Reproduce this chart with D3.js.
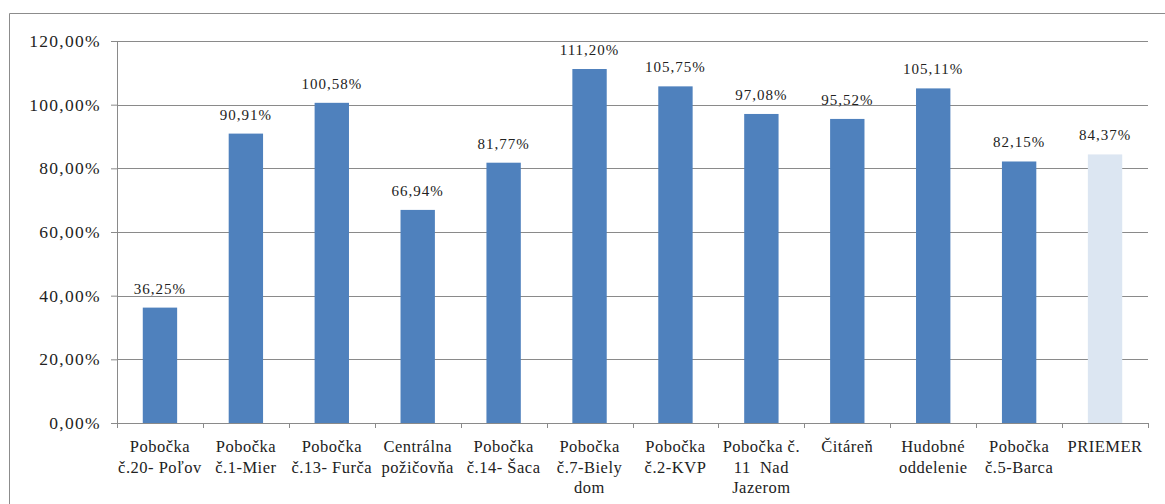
<!DOCTYPE html>
<html>
<head>
<meta charset="utf-8">
<script src="https://cdn.jsdelivr.net/npm/d3@7"></script>
<style>
  html, body { margin: 0; padding: 0; background: #fff; }
  svg text { font-family: "Liberation Serif", "Times New Roman", serif !important; }
</style>
</head>
<body>
<div id="chart"></div>
<script>
// Category labels, split into the lines shown under each bar
const categories = [
    ['Pobočka', 'č.20- Poľov'],
    ['Pobočka', 'č.1-Mier'],
    ['Pobočka', 'č.13- Furča'],
    ['Centrálna', 'požičovňa'],
    ['Pobočka', 'č.14- Šaca'],
    ['Pobočka', 'č.7-Biely', 'dom'],
    ['Pobočka', 'č.2-KVP'],
    ['Pobočka č.', '11  Nad', 'Jazerom'],
    ['Čitáreň'],
    ['Hudobné', 'oddelenie'],
    ['Pobočka', 'č.5-Barca'],
    ['PRIEMER']
];
const values = [36.25, 90.91, 100.58, 66.94, 81.77, 111.20, 105.75, 97.08, 95.52, 105.11, 82.15, 84.37];
const yTicks = [0, 20, 40, 60, 80, 100, 120];
const highlightLast = 'PRIEMER';

const W = 1165, H = 504;
const margin = { top: 41, right: 17, bottom: 81, left: 117 };

const svg = d3.select('#chart').append('svg')
    .attr('width', W)
    .attr('height', H);

// outer frame (only top and left edges are visible in the picture)
svg.append('path')
    .attr('d', `M9.5,${H} V13.5 H${W}`)
    .attr('fill', 'none')
    .attr('stroke', '#8c8c8c')
    .attr('stroke-width', 1);

const g = svg.append('g').attr('transform', `translate(${margin.left},${margin.top})`);
const innerW = W - margin.left - margin.right;
const innerH = H - margin.top - margin.bottom;

const keys = categories.map(d => d.join(' '));
const x = d3.scaleBand().domain(keys).range([0, innerW]).paddingInner(0.6).paddingOuter(0.3);
const y = d3.scaleLinear().domain([0, 120]).range([innerH, 0]);

const fmt = v => d3.format('.2f')(v).replace('.', ',') + '%';

// gridlines
g.selectAll('.grid')
    .data(yTicks.filter(t => t > 0))
    .enter().append('line')
    .attr('x1', 0).attr('x2', innerW)
    .attr('y1', d => Math.round(y(d)) + 0.5)
    .attr('y2', d => Math.round(y(d)) + 0.5)
    .attr('stroke', '#8a8a8a');

// y axis
const yAxis = g.append('g')
    .call(d3.axisLeft(y).tickValues(yTicks).tickSize(6).tickPadding(10).tickFormat(fmt));
yAxis.select('.domain').attr('stroke', '#8a8a8a');
yAxis.selectAll('.tick line').attr('stroke', '#8a8a8a');
yAxis.selectAll('.tick text')
    .attr('font-size', '17.5px')
    .attr('letter-spacing', '1.3px')
    .attr('fill', '#222');

// bars
g.selectAll('.bar')
    .data(values)
    .enter().append('rect')
    .attr('x', (d, i) => x(keys[i]))
    .attr('y', d => y(d))
    .attr('width', x.bandwidth())
    .attr('height', d => innerH - y(d))
    .attr('fill', (d, i) => keys[i] === highlightLast ? '#dce6f2' : '#4f81bd');

// value labels
g.selectAll('.val')
    .data(values)
    .enter().append('text')
    .attr('x', (d, i) => x(keys[i]) + x.bandwidth() / 2)
    .attr('y', d => y(d) - 14)
    .attr('text-anchor', 'middle')
    .attr('font-size', '15px')
    .attr('letter-spacing', '1px')
    .attr('fill', '#222')
    .text(fmt);

// x axis line and tick marks at category boundaries
const step = innerW / categories.length;
g.append('line')
    .attr('x1', 0).attr('x2', innerW)
    .attr('y1', innerH + 0.5).attr('y2', innerH + 0.5)
    .attr('stroke', '#8a8a8a');
g.selectAll('.xtick')
    .data(d3.range(categories.length + 1))
    .enter().append('line')
    .attr('x1', i => Math.round(i * step) + 0.5)
    .attr('x2', i => Math.round(i * step) + 0.5)
    .attr('y1', innerH).attr('y2', innerH + 5)
    .attr('stroke', '#8a8a8a');

// category labels
const cat = g.selectAll('.cat')
    .data(categories)
    .enter().append('text')
    .attr('text-anchor', 'middle')
    .attr('font-size', '16.5px')
    .attr('letter-spacing', '0.5px')
    .attr('fill', '#222')
    .attr('transform', (d, i) => `translate(${x(keys[i]) + x.bandwidth() / 2},${innerH + 29})`);
cat.selectAll('tspan')
    .data(d => d)
    .enter().append('tspan')
    .attr('x', 0)
    .attr('y', (d, i) => i * 20.5)
    .attr('xml:space', 'preserve')
    .style('white-space', 'pre')
    .text(d => d);
</script>
</body>
</html>
